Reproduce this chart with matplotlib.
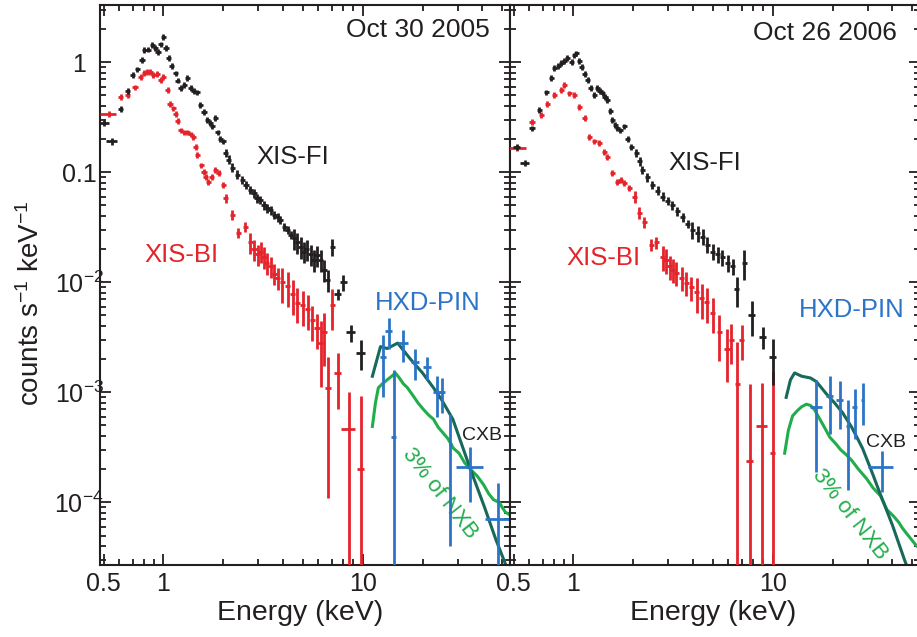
import numpy as np
import matplotlib
matplotlib.use("Agg")
import matplotlib.pyplot as plt
from matplotlib.ticker import FixedLocator, FixedFormatter, NullFormatter

plt.rcParams['font.family'] = ['Liberation Sans', 'DejaVu Sans']
plt.rcParams['mathtext.fontset'] = 'custom'
plt.rcParams['mathtext.rm'] = 'Liberation Sans'
plt.rcParams['mathtext.it'] = 'Liberation Sans:italic'

# ---------------- data: Oct 30 2005 ----------------
fi05_E = [0.50, 0.55, 0.61, 0.66, 0.70, 0.74, 0.78, 0.80, 0.84, 0.88, 0.91, 0.94, 0.97, 1.00, 1.03, 1.06,
          1.10, 1.15, 1.18, 1.22, 1.27, 1.32, 1.37, 1.42, 1.48, 1.53, 1.60, 1.66, 1.72, 1.76, 1.82, 1.87,
          1.93, 2.00, 2.05, 2.13, 2.22, 2.35, 2.49, 2.60, 2.73, 2.85, 2.95, 3.07, 3.20, 3.33, 3.45, 3.60,
          3.75, 3.87, 4.05, 4.20, 4.35, 4.55, 4.70, 4.88, 5.05, 5.25, 5.48, 5.70, 5.90, 6.15, 6.40, 6.67,
          7.06, 7.50, 8.00, 8.70, 9.80]
fi05_v = [0.28, 0.19, 0.375, 0.55, 0.76, 0.86, 1.04, 1.28, 1.30, 1.43, 1.35, 1.23, 1.45, 1.68, 1.35, 1.09,
          0.92, 0.79, 0.68, 0.58, 0.62, 0.72, 0.58, 0.55, 0.53, 0.41, 0.35, 0.30, 0.28, 0.26, 0.31, 0.23,
          0.20, 0.19, 0.15, 0.13, 0.11, 0.095, 0.085, 0.077, 0.069, 0.064, 0.058, 0.056, 0.050, 0.047, 0.045, 0.041,
          0.039, 0.037, 0.032, 0.030, 0.027, 0.025, 0.023, 0.021, 0.019, 0.020, 0.018, 0.016, 0.0175, 0.016, 0.013, 0.0105,
          0.021, 0.0078, 0.010, 0.0035, 0.0023]
fi05_err = [0.07] * 2 + [0.06] * 32 + [0.09] * 19 + [0.22] * 11 + [0.18, 0.12, 0.16, 0.18, 0.3]
fi05_dx = [0.06] * 2 + [0.03] * 62 + [0.03, 0.04, 0.04, 0.05, 0.05]

bi05_E = [0.53, 0.61, 0.66, 0.72, 0.77, 0.80, 0.83, 0.86, 0.89, 0.93, 0.97, 1.00, 1.05, 1.08, 1.12, 1.15,
          1.18, 1.22, 1.27, 1.32, 1.37, 1.41, 1.45, 1.48, 1.55, 1.60, 1.63, 1.68, 1.75, 1.82, 1.89, 2.00,
          2.05, 2.22, 2.38, 2.58, 2.73, 2.85, 2.97, 3.08, 3.18, 3.30, 3.45, 3.60, 3.74, 3.95, 4.20, 4.45,
          4.70, 5.00, 5.30, 5.60, 5.90, 6.15, 6.40, 6.70, 7.06, 7.50, 8.50, 9.80]
bi05_v = [0.34, 0.48, 0.50, 0.59, 0.73, 0.80, 0.81, 0.82, 0.76, 0.78, 0.69, 0.73, 0.56, 0.42, 0.38, 0.34,
          0.29, 0.24, 0.23, 0.23, 0.22, 0.21, 0.17, 0.144, 0.115, 0.10, 0.091, 0.082, 0.09, 0.105, 0.099, 0.077,
          0.058, 0.041, 0.028, 0.032, 0.023, 0.020, 0.018, 0.019, 0.017, 0.015, 0.014, 0.012, 0.011, 0.010, 0.0092, 0.0078,
          0.0065, 0.0062, 0.0057, 0.0045, 0.0038, 0.0028, 0.0035, 0.0011, 0.0062, 0.0015, 0.00046, 0.00020]
bi05_err = [0.06] * 32 + [0.1] * 4 + [0.22] * 9 + [0.35] * 8 + [0.6, 0.5, 0.9, 0.4, 0.53, 1.2, 3.6]
bi05_dx = [0.09] + [0.03] * 52 + [0.03, 0.03, 0.03, 0.03, 0.04, 0.08, 0.04]

pin05_E = [12.7, 13.5, 14.3, 16.0, 18.4, 21.0, 23.7, 25.0, 27.6, 34.8, 48.0]
pin05_dE = [0.4, 0.6, 0.4, 0.9, 0.9, 1.0, 1.0, 0.8, 0.4, 5.5, 7.0]
pin05_v = [2.1e-3, 3.6e-3, 3.9e-4, 2.8e-3, 1.9e-3, 1.7e-3, 1.0e-3, 1.0e-3, 3.4e-4, 2.1e-4, 7e-5]
pin05_s = [1.2e-3, 1.1e-3, 1.2e-3, 0.9e-3, 0.6e-3, 0.4e-3, 0.4e-3, 0.35e-3, 3.0e-4, 1.1e-4, 8e-5]

cxb05_E = [11.2, 12.3, 13.3, 15.0, 17.4, 20.0, 22.7, 25.0, 28.4, 34.8, 41.0, 46.7, 52.0]
cxb05_v = [1.4e-3, 2.6e-3, 2.5e-3, 2.8e-3, 2.0e-3, 1.5e-3, 1.1e-3, 8.5e-4, 5.7e-4, 2.0e-4, 9.0e-5, 4.6e-5, 2.8e-5]

nxb05_E = [11.2, 11.6, 12.0, 12.6, 13.3, 14.0, 14.6, 15.3, 16.0, 16.8, 17.8, 19.0, 20.2, 21.5, 22.7,
           24.0, 25.3, 26.8, 28.6, 30.5, 32.5, 34.8, 37.7, 40.5, 43.0, 45.4, 48.5, 52.0, 56.0]
nxb05_v = [4.9e-4, 8.0e-4, 1.1e-3, 1.2e-3, 1.3e-3, 1.4e-3, 1.5e-3, 1.35e-3, 1.2e-3, 1.1e-3, 9.5e-4, 8.0e-4,
           7.0e-4, 6.2e-4, 5.7e-4, 4.8e-4, 4.3e-4, 3.8e-4, 3.1e-4, 2.8e-4, 2.3e-4, 2.0e-4, 1.73e-4, 1.45e-4,
           1.2e-4, 1.06e-4, 1.0e-4, 8.2e-5, 7.5e-5]

# ---------------- data: Oct 26 2006 ----------------
fi06_E = [0.52, 0.57, 0.62, 0.675, 0.73, 0.775, 0.80, 0.84, 0.87, 0.90, 0.93, 0.98, 1.01, 1.035, 1.07, 1.10,
          1.14, 1.18, 1.22, 1.27, 1.32, 1.36, 1.40, 1.44, 1.48, 1.53, 1.57, 1.62, 1.66, 1.72, 1.80, 1.87,
          1.95, 2.07, 2.15, 2.22, 2.35, 2.49, 2.65, 2.80, 2.97, 3.14, 3.33, 3.53, 3.74, 3.96, 4.20, 4.45,
          4.70, 5.00, 5.30, 5.60, 5.95, 6.30, 6.60, 7.20, 7.85, 8.90, 10.0]
fi06_v = [0.17, 0.121, 0.25, 0.37, 0.53, 0.72, 0.88, 0.93, 0.98, 1.02, 1.09, 1.0, 1.15, 1.2, 1.02, 0.90,
          0.78, 0.69, 0.58, 0.50, 0.58, 0.55, 0.52, 0.48, 0.45, 0.36, 0.30, 0.27, 0.25, 0.24, 0.26, 0.20,
          0.17, 0.15, 0.125, 0.105, 0.09, 0.077, 0.068, 0.060, 0.055, 0.050, 0.044, 0.039, 0.034, 0.030, 0.028, 0.026,
          0.022, 0.019, 0.018, 0.0168, 0.015, 0.0139, 0.0086, 0.015, 0.0050, 0.0032, 0.0021]
fi06_err = [0.06] * 33 + [0.09] * 12 + [0.17] * 9 + [0.3, 0.3, 0.35, 0.22, 0.45]
fi06_dx = [0.04, 0.05] + [0.03] * 52 + [0.03, 0.03, 0.04, 0.04, 0.04]

bi06_E = [0.52, 0.62, 0.69, 0.74, 0.80, 0.87, 0.90, 0.955, 1.01, 1.07, 1.14, 1.20, 1.27, 1.35, 1.43, 1.48,
          1.57, 1.66, 1.73, 1.80, 1.91, 2.03, 2.14, 2.27, 2.46, 2.61, 2.80, 2.92, 3.04, 3.15, 3.29, 3.50,
          3.69, 3.90, 4.15, 4.40, 4.66, 5.00, 5.40, 5.90, 6.20, 6.65, 7.00, 7.67, 8.80, 10.0]
bi06_v = [0.166, 0.286, 0.33, 0.42, 0.50, 0.56, 0.62, 0.52, 0.50, 0.39, 0.31, 0.21, 0.19, 0.185, 0.153, 0.138,
          0.099, 0.082, 0.085, 0.080, 0.072, 0.060, 0.043, 0.035, 0.022, 0.023, 0.017, 0.016, 0.0139, 0.013, 0.0122, 0.011,
          0.0099, 0.009, 0.0081, 0.0072, 0.0066, 0.0053, 0.0035, 0.0025, 0.0030, 0.0012, 0.0030, 0.00024, 0.00049, 0.00028]
bi06_err = [0.06] * 21 + [0.12] * 5 + [0.25] * 8 + [0.35] * 4 + [0.45, 0.5, 0.4, 1.4, 0.35, 4.0, 1.5, 4.5]
bi06_dx = [0.11] + [0.03] * 40 + [0.03, 0.03, 0.04, 0.06, 0.03]

pin06_E = [16.6, 19.4, 21.7, 23.8, 25.8, 28.3, 35.3]
pin06_dE = [1.2, 0.8, 0.8, 0.4, 0.8, 0.5, 5.0]
pin06_v = [7.4e-4, 9.2e-4, 8.6e-4, 4.9e-4, 7.3e-4, 8.6e-4, 2.1e-4]
pin06_s = [5.5e-4, 5.0e-4, 4.0e-4, 3.6e-4, 3.5e-4, 3.5e-4, 8.5e-5]

cxb06_E = [11.7, 12.3, 12.9, 14.0, 15.5, 16.6, 18.7, 20.5, 22.5, 25.0, 28.3, 31.5, 34.5, 40.0, 46.0, 50.0]
cxb06_v = [9.0e-4, 1.3e-3, 1.5e-3, 1.4e-3, 1.35e-3, 1.25e-3, 9.6e-4, 8.0e-4, 6.5e-4, 4.8e-4, 3.1e-4,
           1.9e-4, 1.23e-4, 6.2e-5, 3.0e-5, 2.0e-5]

nxb06_E = [11.5, 12.0, 12.6, 13.3, 14.0, 14.8, 15.5, 16.2, 17.0, 18.0, 19.4, 20.8, 22.0, 23.5, 25.0,
           27.0, 29.6, 32.0, 34.8, 37.5, 40.5, 43.0, 45.0, 48.0, 53.0, 56.0]
nxb06_v = [2.8e-4, 4.5e-4, 6.1e-4, 6.8e-4, 7.4e-4, 7.8e-4, 7.6e-4, 7.0e-4, 6.0e-4, 5.0e-4, 3.9e-4, 3.4e-4,
           3.0e-4, 2.7e-4, 2.4e-4, 2.0e-4, 1.65e-4, 1.35e-4, 1.15e-4, 8.6e-5, 7.5e-5, 6.6e-5, 5.8e-5, 5.0e-5,
           4.0e-5, 3.7e-5]

titles = ["Oct 30 2005", "Oct 26 2006"]
ytick_vals = [1e-4, 1e-3, 1e-2, 0.1, 1]
ytick_labels = [r"$\mathregular{10^{-4}}$", r"$\mathregular{10^{-3}}$", r"$\mathregular{10^{-2}}$", "0.1", "1"]
xtick_vals = [0.5, 1, 10]
xtick_labels = ["0.5", "1", "10"]

RED = '#e5232b'
BLACK = '#231f20'
BLUE = '#2b74c7'
CXB_C = '#17695a'
NXB_C = '#22ad4c'
YMIN, YMAX = 2.7e-5, 3.3
XMIN, XMAX = 0.48, 55.0

W, H = 917, 637
fig = plt.figure(figsize=(W / 100, H / 100), dpi=100)
ax1 = fig.add_axes([100 / W, 72 / H, 410 / W, 560 / H])
ax2 = fig.add_axes([510 / W, 72 / H, 410 / W, 560 / H])


def xis(ax, E, v, err, dx, color):
    E = np.array(E); v = np.array(v); err = np.array(err); dx = np.array(dx)
    s = v * err
    lo = np.minimum(s, v - YMIN * 0.5)
    ax.errorbar(E, v, yerr=[lo, s], xerr=E * dx, fmt='none', ecolor=color,
                elinewidth=2.0, capsize=0, zorder=3)


def pin(ax, E, dE, v, s):
    v = np.array(v); s = np.array(s)
    lo = np.minimum(s, v - YMIN * 0.5)
    ax.errorbar(E, v, yerr=[lo, s], xerr=dE, fmt='none', ecolor=BLUE,
                elinewidth=2.0, capsize=0, zorder=4)


panels = [
    (ax1, fi05_E, fi05_v, fi05_err, fi05_dx, bi05_E, bi05_v, bi05_err, bi05_dx,
     pin05_E, pin05_dE, pin05_v, pin05_s, cxb05_E, cxb05_v, nxb05_E, nxb05_v),
    (ax2, fi06_E, fi06_v, fi06_err, fi06_dx, bi06_E, bi06_v, bi06_err, bi06_dx,
     pin06_E, pin06_dE, pin06_v, pin06_s, cxb06_E, cxb06_v, nxb06_E, nxb06_v),
]

for i, p in enumerate(panels):
    ax = p[0]
    ax.set_xscale('log'); ax.set_yscale('log')
    ax.set_xlim(XMIN, XMAX); ax.set_ylim(YMIN, YMAX)
    ax.plot(p[15], p[16], color=NXB_C, lw=2.2, zorder=2)
    ax.plot(p[13], p[14], color=CXB_C, lw=2.2, zorder=2)
    xis(ax, p[5], p[6], p[7], p[8], RED)
    xis(ax, p[1], p[2], p[3], p[4], BLACK)
    pin(ax, p[9], p[10], p[11], p[12])

    ax.xaxis.set_major_locator(FixedLocator(xtick_vals))
    ax.xaxis.set_major_formatter(FixedFormatter(xtick_labels))
    ax.xaxis.set_minor_locator(FixedLocator([0.6, 0.7, 0.8, 0.9, 2, 3, 4, 5, 6, 7, 8, 9, 20, 30, 40, 50]))
    ax.xaxis.set_minor_formatter(NullFormatter())
    ax.yaxis.set_major_locator(FixedLocator(ytick_vals))
    ax.yaxis.set_minor_locator(FixedLocator([m * 10.0 ** k for k in range(-5, 1) for m in range(2, 10)]))
    ax.yaxis.set_minor_formatter(NullFormatter())
    if i == 0:
        ax.yaxis.set_major_formatter(FixedFormatter(ytick_labels))
    else:
        ax.yaxis.set_major_formatter(NullFormatter())
    ax.tick_params(which='both', direction='in', top=True, right=True, colors=BLACK, width=1.3)
    ax.tick_params(which='major', length=8, labelsize=18, pad=5)
    ax.tick_params(which='minor', length=4)
    ax.tick_params(axis='y', which='major', pad=15)
    for lbl in ax.get_yticklabels():
        lbl.set_ha('center')
    for sp in ax.spines.values():
        sp.set_linewidth(1.5)
        sp.set_color(BLACK)

ax1.text(0.951, 0.955, titles[0], transform=ax1.transAxes, ha='right', va='center', fontsize=19, color=BLACK)
ax2.text(0.944, 0.950, titles[1], transform=ax2.transAxes, ha='right', va='center', fontsize=19, color=BLACK)

ax1.text(0.471, 0.728, "XIS-FI", transform=ax1.transAxes, ha='center', va='center', fontsize=18.5, color=BLACK)
ax2.text(0.476, 0.718, "XIS-FI", transform=ax2.transAxes, ha='center', va='center', fontsize=18.5, color=BLACK)
ax1.text(0.198, 0.554, "XIS-BI", transform=ax1.transAxes, ha='center', va='center', fontsize=18.5, color=RED)
ax2.text(0.227, 0.548, "XIS-BI", transform=ax2.transAxes, ha='center', va='center', fontsize=18.5, color=RED)
ax1.text(0.800, 0.468, "HXD-PIN", transform=ax1.transAxes, ha='center', va='center', fontsize=18.5, color=BLUE)
ax2.text(0.834, 0.455, "HXD-PIN", transform=ax2.transAxes, ha='center', va='center', fontsize=18.5, color=BLUE)
ax1.text(0.932, 0.232, "CXB", transform=ax1.transAxes, ha='center', va='center', fontsize=14, color=BLACK)
ax2.text(0.917, 0.218, "CXB", transform=ax2.transAxes, ha='center', va='center', fontsize=14, color=BLACK)
ax1.text(0.829, 0.128, "3% of NXB", transform=ax1.transAxes, ha='center', va='center', fontsize=16,
         color=NXB_C, rotation=-52, rotation_mode='anchor')
ax2.text(0.829, 0.090, "3% of NXB", transform=ax2.transAxes, ha='center', va='center', fontsize=16,
         color=NXB_C, rotation=-52, rotation_mode='anchor')

fig.text(31 / W, 1 - 303 / H, r"counts s$^{\mathregular{-1}}$ keV$^{\mathregular{-1}}$", rotation=90,
         ha='center', va='center', fontsize=20, color=BLACK)
fig.text(300 / W, 1 - 613 / H, "Energy (keV)", ha='center', va='center', fontsize=20.5, color=BLACK)
fig.text(713 / W, 1 - 613 / H, "Energy (keV)", ha='center', va='center', fontsize=20.5, color=BLACK)

fig.savefig("out.png", dpi=100)
